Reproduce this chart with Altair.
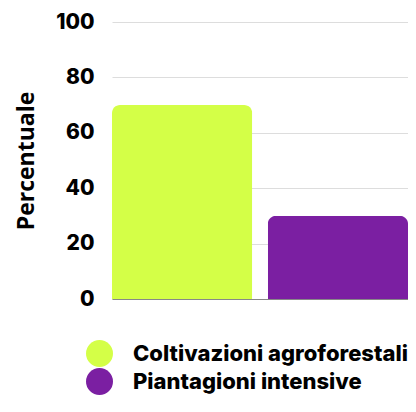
import altair as alt
import pandas as pd

categories = ["Coltivazioni agroforestali", "Piantagioni intensive"]
values = [70, 30]
colors = ["#d4ff47", "#7b1fa2"]
y_ticks = [0, 20, 40, 60, 80, 100]

df = pd.DataFrame({"categoria": categories, "percentuale": values})

FONT = "Inter"
TITLE_FONT = "Open Sans"

chart = alt.Chart(df).mark_bar(
    cornerRadiusTopLeft=8, cornerRadiusTopRight=8
).encode(
    x=alt.X("categoria:N", sort=categories,
            scale=alt.Scale(paddingInner=0.1, paddingOuter=0),
            axis=alt.Axis(title=None, labels=False, ticks=False, domain=True,
                          domainColor="#888888", grid=False)),
    y=alt.Y("percentuale:Q", scale=alt.Scale(domain=[0, 100]),
            axis=alt.Axis(title="Percentuale", values=y_ticks, ticks=False, domain=False,
                          gridColor="#dddddd", labelFont=FONT, labelFontSize=21,
                          labelFontWeight=800, labelColor="#000000", labelPadding=18,
                          titleFont=TITLE_FONT, titleFontSize=23, titleFontWeight="bold",
                          titleColor="#000000", titleX=-86, titleBaseline="middle")),
    color=alt.Color("categoria:N", sort=categories,
                    scale=alt.Scale(domain=categories, range=colors),
                    legend=alt.Legend(title=None, orient="none", legendX=-26, legendY=318,
                                      direction="vertical", symbolType="circle",
                                      symbolSize=729, symbolStrokeWidth=0, symbolOpacity=1,
                                      labelFont=FONT, labelFontSize=22, labelFontWeight=800,
                                      labelColor="#000000", labelOffset=20, rowPadding=1,
                                      labelLimit=500)),
).properties(
    width=296, height=277,
    autosize=alt.AutoSizeParams(type="none"),
    padding={"left": 104, "top": 14, "right": 0, "bottom": 100},
).configure_view(stroke=None)

chart.save("out.html", embed_options={"renderer": "svg", "actions": False})
